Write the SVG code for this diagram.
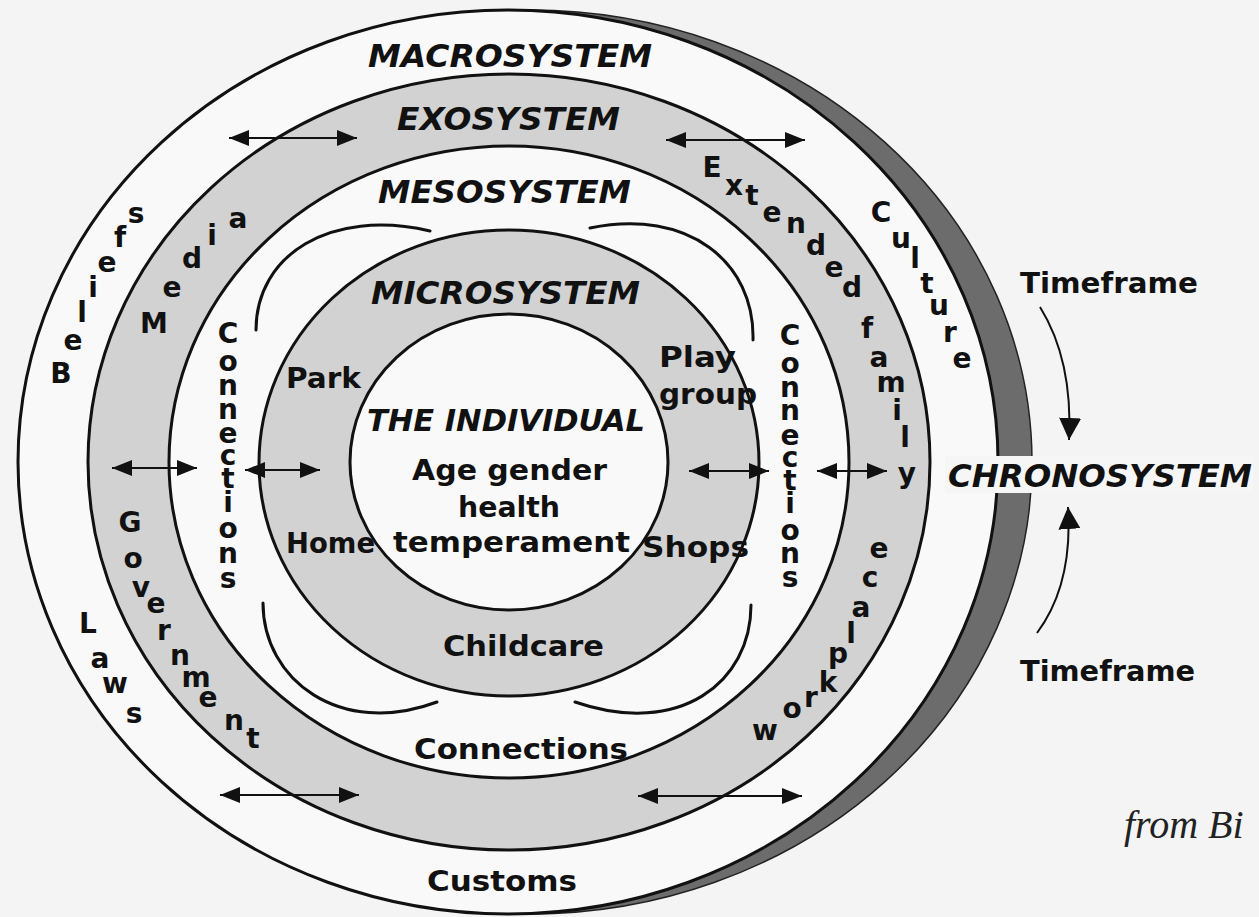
<svg xmlns="http://www.w3.org/2000/svg" width="1259" height="917" viewBox="0 0 1259 917">
<defs>
<style>
.ring{stroke:#111;stroke-width:3}
.w{fill:#f9f9f9}
.g{fill:#d2d2d2}
.arc{fill:none;stroke:#111;stroke-width:3;stroke-linecap:round}
.sys{font-family:"DejaVu Sans","Liberation Sans",sans-serif;font-weight:bold;font-style:italic;font-size:32px;fill:#111}
.lbl{font-family:"DejaVu Sans","Liberation Sans",sans-serif;font-weight:bold;font-size:28px;fill:#111}
.lt{font-family:"DejaVu Sans","Liberation Sans",sans-serif;font-weight:bold;font-size:28px;fill:#111;text-anchor:middle}
.ar{fill:none;stroke:#111;stroke-width:2;marker-start:url(#ah);marker-end:url(#ah)}
.tf{fill:none;stroke:#111;stroke-width:2;marker-end:url(#ah2)}
</style>
<marker id="ah" viewBox="0 0 20 16" refX="20" refY="8" markerWidth="20" markerHeight="16" markerUnits="userSpaceOnUse" orient="auto-start-reverse"><path d="M0,0 L20,8 L0,16 z" fill="#111"/></marker>
<marker id="ah2" viewBox="0 0 22 22" refX="22" refY="11" markerWidth="22" markerHeight="22" markerUnits="userSpaceOnUse" orient="auto"><path d="M0,0 L22,11 L0,22 z" fill="#111"/></marker>
</defs>
<rect width="1259" height="917" fill="#f4f4f4"/>

<g id="macrosystem">
<ellipse cx="530" cy="462" rx="502" ry="452" fill="#6c6c6c" stroke="#222" stroke-width="1.5"/>
<ellipse class="ring w" cx="508" cy="462" rx="490" ry="452"/>
<text class="sys" x="368" y="67" textLength="284" lengthAdjust="spacingAndGlyphs">MACROSYSTEM</text>
<text class="lt"><tspan x="61" y="383">B</tspan><tspan x="73" y="350">e</tspan><tspan x="82" y="322">l</tspan><tspan x="93" y="297">i</tspan><tspan x="107" y="272">e</tspan><tspan x="120" y="247">f</tspan><tspan x="136" y="223">s</tspan></text>
<text class="lt"><tspan x="881" y="222">C</tspan><tspan x="901" y="248">u</tspan><tspan x="915" y="268">l</tspan><tspan x="927" y="293">t</tspan><tspan x="939" y="315">u</tspan><tspan x="950" y="342">r</tspan><tspan x="962" y="368">e</tspan></text>
<text class="lt"><tspan x="88" y="633">L</tspan><tspan x="100" y="668">a</tspan><tspan x="115" y="693">w</tspan><tspan x="134" y="723">s</tspan></text>
<text class="lbl" x="427" y="891" textLength="150" lengthAdjust="spacingAndGlyphs">Customs</text>
</g>

<g id="exosystem">
<ellipse class="ring g" cx="509" cy="462" rx="421" ry="388"/>
<text class="sys" x="397" y="130" textLength="223" lengthAdjust="spacingAndGlyphs">EXOSYSTEM</text>
<text class="lt"><tspan x="154" y="333">M</tspan><tspan x="172" y="297">e</tspan><tspan x="192" y="268">d</tspan><tspan x="212" y="245">i</tspan><tspan x="238" y="228">a</tspan></text>
<text class="lt"><tspan x="712" y="177">E</tspan><tspan x="734" y="195">x</tspan><tspan x="752" y="205">t</tspan><tspan x="772" y="222">e</tspan><tspan x="796" y="233">n</tspan><tspan x="816" y="255">d</tspan><tspan x="834" y="277">e</tspan><tspan x="852" y="297">d</tspan><tspan x="867" y="338">f</tspan><tspan x="879" y="367">a</tspan><tspan x="891" y="392">m</tspan><tspan x="897" y="420">i</tspan><tspan x="905" y="447">l</tspan><tspan x="907" y="483">y</tspan></text>
<text class="lt"><tspan x="130" y="532">G</tspan><tspan x="133" y="568">o</tspan><tspan x="141" y="597">v</tspan><tspan x="156" y="613">e</tspan><tspan x="164" y="640">r</tspan><tspan x="180" y="665">n</tspan><tspan x="196" y="687">m</tspan><tspan x="208" y="707">e</tspan><tspan x="234" y="730">n</tspan><tspan x="253" y="748">t</tspan></text>
<text class="lt"><tspan x="765" y="740">w</tspan><tspan x="792" y="718">o</tspan><tspan x="811" y="707">r</tspan><tspan x="828" y="692">k</tspan><tspan x="838" y="663">p</tspan><tspan x="851" y="643">l</tspan><tspan x="861" y="617">a</tspan><tspan x="870" y="587">c</tspan><tspan x="879" y="558">e</tspan></text>
</g>

<g id="mesosystem">
<ellipse class="ring w" cx="509" cy="462" rx="340" ry="316"/>
<text class="sys" x="378" y="203" textLength="253" lengthAdjust="spacingAndGlyphs">MESOSYSTEM</text>
<path class="arc" d="M256,330 C256,255 330,208 430,231"/>
<path class="arc" d="M753,340 C755,262 688,208 590,228"/>
<path class="arc" d="M263,603 C263,680 340,738 437,702"/>
<path class="arc" d="M751,605 C751,682 680,738 575,702"/>
<text class="lt"><tspan x="228" y="343">C</tspan><tspan x="228" y="371">o</tspan><tspan x="228" y="395">n</tspan><tspan x="228" y="419">n</tspan><tspan x="228" y="443">e</tspan><tspan x="228" y="465">c</tspan><tspan x="228" y="488">t</tspan><tspan x="228" y="512">i</tspan><tspan x="228" y="538">o</tspan><tspan x="228" y="563">n</tspan><tspan x="228" y="588">s</tspan></text>
<text class="lt"><tspan x="790" y="345">C</tspan><tspan x="790" y="373">o</tspan><tspan x="790" y="397">n</tspan><tspan x="790" y="420">n</tspan><tspan x="790" y="445">e</tspan><tspan x="790" y="467">c</tspan><tspan x="790" y="490">t</tspan><tspan x="790" y="513">i</tspan><tspan x="790" y="540">o</tspan><tspan x="790" y="563">n</tspan><tspan x="790" y="587">s</tspan></text>
<text class="lbl" x="414" y="759" textLength="214" lengthAdjust="spacingAndGlyphs">Connections</text>
</g>

<g id="microsystem">
<ellipse class="ring g" cx="509" cy="463" rx="250" ry="233"/>
<text class="sys" x="371" y="304" textLength="269" lengthAdjust="spacingAndGlyphs">MICROSYSTEM</text>
<text class="lbl" x="286" y="388" textLength="75" lengthAdjust="spacingAndGlyphs">Park</text>
<text class="lbl" x="659" y="367" textLength="77" lengthAdjust="spacingAndGlyphs">Play</text>
<text class="lbl" x="659" y="404" textLength="98" lengthAdjust="spacingAndGlyphs">group</text>
<text class="lbl" x="286" y="553" textLength="89" lengthAdjust="spacingAndGlyphs">Home</text>
<text class="lbl" x="642" y="557" textLength="107" lengthAdjust="spacingAndGlyphs">Shops</text>
<text class="lbl" x="443" y="656" textLength="161" lengthAdjust="spacingAndGlyphs">Childcare</text>
</g>

<g id="individual">
<ellipse class="ring w" cx="509" cy="462" rx="159" ry="148"/>
<text class="sys" x="367" y="431" textLength="278" lengthAdjust="spacingAndGlyphs" style="font-size:31px">THE INDIVIDUAL</text>
<text class="lbl" x="412" y="480" textLength="195" lengthAdjust="spacingAndGlyphs">Age gender</text>
<text class="lbl" x="458" y="517" textLength="102" lengthAdjust="spacingAndGlyphs">health</text>
<text class="lbl" x="393" y="552" textLength="237" lengthAdjust="spacingAndGlyphs">temperament</text>
</g>

<g id="chronosystem">
<rect x="945" y="456" width="308" height="37" fill="#f6f6f6"/>
<text class="sys" x="948" y="487" textLength="304" lengthAdjust="spacingAndGlyphs">CHRONOSYSTEM</text>
<text class="lbl" x="1020" y="293" textLength="178" lengthAdjust="spacingAndGlyphs">Timeframe</text>
<text class="lbl" x="1020" y="681" textLength="175" lengthAdjust="spacingAndGlyphs">Timeframe</text>
</g>

<g id="connectors">
<line class="ar" x1="229" y1="138" x2="357" y2="138"/>
<line class="ar" x1="666" y1="140" x2="805" y2="140"/>
<line class="ar" x1="112" y1="468" x2="197" y2="468"/>
<line class="ar" x1="245" y1="470" x2="320" y2="470"/>
<line class="ar" x1="689" y1="471" x2="769" y2="471"/>
<line class="ar" x1="817" y1="471" x2="887" y2="471"/>
<line class="ar" x1="220" y1="795" x2="359" y2="795"/>
<line class="ar" x1="638" y1="796" x2="802" y2="796"/>
<path class="tf" d="M1040,307 Q1073,360 1069,440"/>
<path class="tf" d="M1037,633 Q1073,585 1068,507"/>
</g>

<text x="1124" y="838" style="font-family:'Liberation Serif',serif;font-style:italic;font-size:40px;fill:#222">from Bi</text>
</svg>
